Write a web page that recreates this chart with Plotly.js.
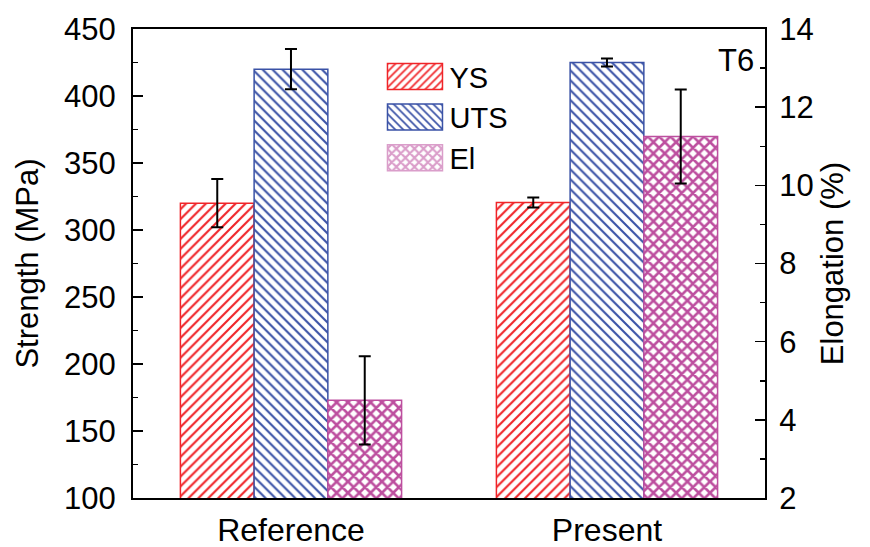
<!DOCTYPE html>
<html>
<head>
<meta charset="utf-8">
<script src="https://cdn.plot.ly/plotly-3.0.1.min.js"></script>
<style>body{margin:0;background:#fff;} #chart{width:870px;height:547px;}</style>
</head>
<body>
<div id="chart"></div>
<script>
// ---- data ----
var categories = ['Reference', 'Present'];
var ysValues  = [320, 320.5];
var ysErrors  = [18, 3.8];
var utsValues = [420, 425];
var utsErrors = [15, 3];
var elValues  = [4.5, 11.25];
var elErrors  = [1.13, 1.2];
var leftTicks  = [100, 150, 200, 250, 300, 350, 400, 450];
var rightTicks = [2, 4, 6, 8, 10, 12, 14];

var FONT = 'Arial, "Liberation Sans", sans-serif';
var W = 0.2333;
function errObj(arr){ return {type:'data', array:arr, visible:true, color:'#000', thickness:2, width:6}; }

var traces = [
  {type:'bar', name:'YS', x:categories, y:ysValues, yaxis:'y', offset:-0.35, width:W,
   marker:{color:'#fff', line:{color:'#f02428', width:1.5},
           pattern:{shape:'/', fgcolor:'#f02428', bgcolor:'#fff', size:7, solidity:0.3}},
   error_y:errObj(ysErrors), legendgroup:'a'},
  {type:'bar', name:'UTS', x:categories, y:utsValues, yaxis:'y', offset:-0.1167, width:W,
   marker:{color:'#fff', line:{color:'#3a52a6', width:1.5},
           pattern:{shape:'\\', fgcolor:'#3a52a6', bgcolor:'#fff', size:7, solidity:0.3}},
   error_y:errObj(utsErrors), legendgroup:'b'},
  {type:'bar', name:'El', x:categories, y:elValues, yaxis:'y2', offset:0.1167, width:W,
   marker:{color:'#fff', line:{color:'#bd4f9f', width:1.5},
           pattern:{shape:'x', fgcolor:'#bd4f9f', bgcolor:'#fff', size:8, solidity:0.55}},
   error_y:errObj(elErrors), legendgroup:'c'}
];

var layout = {
  width:870, height:547,
  margin:{l:133, r:105, t:29, b:49, pad:0},
  paper_bgcolor:'#fff', plot_bgcolor:'#fff',
  font:{family:FONT, color:'#000', size:31},
  barmode:'overlay',
  showlegend:true,
  legend:{x:0.39, y:0.953, xanchor:'left', yanchor:'top', bgcolor:'rgba(0,0,0,0)',
          font:{size:29, family:FONT}, itemwidth:60, tracegroupgap:0},
  xaxis:{range:[-0.5,1.5], showline:true, linecolor:'#000', linewidth:2, mirror:true,
         ticks:'', showgrid:false, zeroline:false, tickfont:{size:32}, ticklabelstandoff:3, fixedrange:true},
  yaxis:{range:[100,450], tickvals:leftTicks, showline:true, linecolor:'#000', linewidth:2,
         ticks:'inside', ticklen:10, tickwidth:1.5, tickcolor:'#000', ticklabelstandoff:9,
         minor:{dtick:25, ticks:'inside', ticklen:5, tickwidth:1.5, tickcolor:'#000'},
         showgrid:false, zeroline:false, tickfont:{size:31},
         title:{text:'Strength (MPa)', font:{size:31}, standoff:16}},
  yaxis2:{range:[2,14], tickvals:rightTicks, overlaying:'y', side:'right', showline:true,
          linecolor:'#000', linewidth:2, ticks:'inside', ticklen:10, tickwidth:1.5, tickcolor:'#000',
          ticklabelstandoff:6,
          minor:{dtick:1, ticks:'inside', ticklen:5, tickwidth:1.5, tickcolor:'#000'},
          showgrid:false, zeroline:false, tickfont:{size:31},
          title:{text:'Elongation (%)', font:{size:31}, standoff:9}},
  annotations:[{text:'T6', xref:'paper', yref:'paper', x:0.985, y:0.975, xanchor:'right', yanchor:'top',
                showarrow:false, font:{size:31, family:FONT}}]
};

Plotly.newPlot('chart', traces, layout, {staticPlot:true}).then(function(){
  // enlarge legend swatches to rectangles like the original
  var pts = document.querySelectorAll('.legend .legendpoints path');
  pts.forEach(function(p, i){
    p.setAttribute('d','M-27,-13H28V13H-27Z');
    if (i === pts.length - 1) { p.style.opacity = '0.55'; }
  });
});
</script>
</body>
</html>
